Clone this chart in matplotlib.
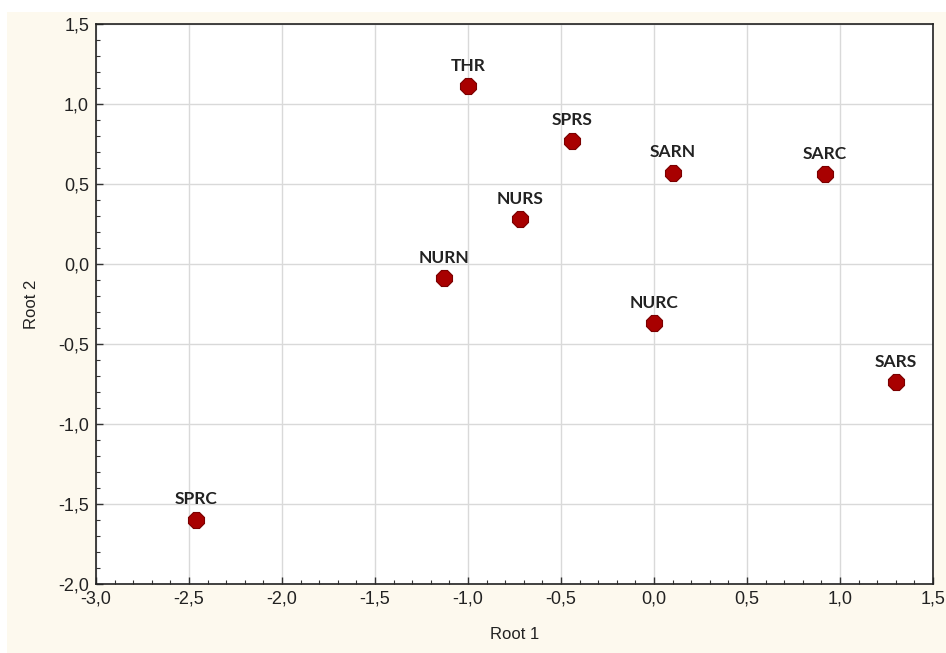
import matplotlib
matplotlib.use("Agg")
import matplotlib.pyplot as plt
from matplotlib.patches import Rectangle
from matplotlib.ticker import MultipleLocator, FuncFormatter

labels = ["THR", "SPRS", "SARN", "SARC", "NURS", "NURN", "NURC", "SARS", "SPRC"]
root1 = [-1.00, -0.44, 0.10, 0.92, -0.72, -1.13, 0.00, 1.30, -2.46]
root2 = [1.11, 0.77, 0.57, 0.56, 0.28, -0.09, -0.37, -0.74, -1.60]

W, H = 946, 653
fig = plt.figure(figsize=(W / 100, H / 100), dpi=100, facecolor="white")
fig.patches.append(Rectangle((7 / W, 0), 1 - 7 / W, 1 - 12 / H, transform=fig.transFigure,
                             facecolor="#fdf9ee", edgecolor="none", zorder=-10))

ax = fig.add_axes([96 / W, (H - 584) / H, (933 - 96) / W, (584 - 24) / H])
ax.set_facecolor("white")
ax.set_xlim(-3.0, 1.5)
ax.set_ylim(-2.0, 1.5)
ax.xaxis.set_major_locator(MultipleLocator(0.5))
ax.yaxis.set_major_locator(MultipleLocator(0.5))
ax.xaxis.set_minor_locator(MultipleLocator(0.1))
ax.yaxis.set_minor_locator(MultipleLocator(0.1))
fmt = FuncFormatter(lambda v, p: f"{v:.1f}".replace(".", ",").replace("-0,0", "0,0"))
ax.xaxis.set_major_formatter(fmt)
ax.yaxis.set_major_formatter(fmt)
ax.grid(True, which="major", color="#d9d9d9", linewidth=1.0)
ax.set_axisbelow(True)
ax.tick_params(which="both", direction="in", color="#333333", labelsize=13,
               labelcolor="#222222", top=False, right=False)
ax.tick_params(which="major", length=5, width=1, pad=5)
ax.tick_params(which="minor", length=3, width=0.8)
for lab in ax.get_xticklabels() + ax.get_yticklabels():
    lab.set_family("Liberation Sans")
for s in ax.spines.values():
    s.set_color("#222222")
    s.set_linewidth(1.2)

ax.plot(root1, root2, linestyle="none", marker="8", markersize=12,
        markerfacecolor="#a80000", markeredgecolor="#7a0000", markeredgewidth=0.8, zorder=3)
for lab, x, y in zip(labels, root1, root2):
    ax.annotate(lab, (x, y), xytext=(0, 9), textcoords="offset points", ha="center",
                va="bottom", fontsize=12.5, fontweight="bold", family="Lato", color="#222222")

ax.set_xlabel("Root 1", fontsize=12, family="Liberation Sans", color="#222222", labelpad=14)
ax.set_ylabel("Root 2", fontsize=12, family="Liberation Sans", color="#222222", labelpad=14)

fig.savefig("out.png", dpi=100, facecolor=fig.get_facecolor())
